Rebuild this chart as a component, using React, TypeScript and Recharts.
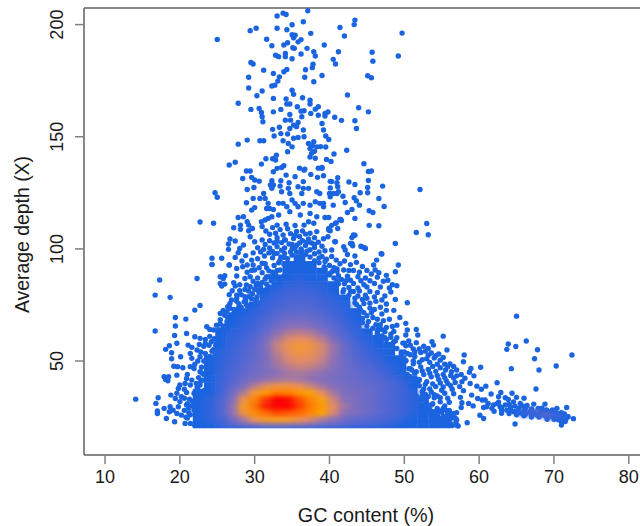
import { ScatterChart, Scatter, XAxis, YAxis, ReferenceLine } from 'recharts'

const xTicks = [10, 20, 30, 40, 50, 60, 70, 80]
const yTicks = [50, 100, 150, 200]

const _ = null
// density, one row per depth, 0 is plain blue and 10 is the red core
const gcCols = [21, 22.5, 24, 25.5, 27, 28.5, 30, 31.5, 33, 34.5, 36, 37.5, 39, 40.5, 42, 43.5, 45, 46.5, 48, 49.5, 51, 52.5, 54, 55.5]
const depthRows = [21.6, 24, 27, 30, 33, 36, 39, 42, 45, 48, 51, 54, 57, 60, 63, 66, 69, 72, 75, 78, 81, 84, 87, 90, 93, 96]
const density = [
  [_, 0, .3, .7, 1.5, 2, 2.5, 3, 3, 3, 2.8, 2.5, 2, 1.8, 1.5, 1.2, 1, .8, .5, .3, 0, 0, 0, 0],
  [_, 0, .5, 1, 2.5, 4, 5.8, 6.4, 6.6, 6.4, 5.8, 5.2, 4.2, 3.5, 2.5, 2, 1.8, 1.5, 1, .7, .3, 0, 0, 0],
  [_, 0, .5, 1.5, 3.5, 6, 7.5, 8.2, 8.8, 8.6, 8.2, 7.6, 7, 5.2, 3.5, 3, 2.5, 2, 1.5, 1, .5, 0, 0, _],
  [_, 0, .5, 1.5, 3.5, 6.5, 8, 9.5, 10, 10, 9, 7.8, 7.2, 5.5, 4, 3, 2.5, 2, 1.5, 1, .5, 0, _, _],
  [_, 0, .5, 1.5, 3, 5.8, 7.6, 9, 10, 9.8, 8.6, 7.6, 6.8, 5, 3.5, 3, 2.5, 2, 1.5, 1, .5, 0, _, _],
  [_, 0, .3, 1, 2.5, 4.2, 6.2, 7.2, 7.8, 7.7, 7.3, 6.8, 5.5, 4, 3, 2.7, 2.5, 2, 1.5, 1, .5, _, _, _],
  [_, _, .3, 1, 2, 3, 4.4, 5.4, 6, 6, 5.6, 4.8, 4, 3.3, 2.8, 2.6, 2.3, 2, 1.5, 1, .3, _, _, _],
  [_, _, .2, .8, 1.6, 2.4, 3, 3.6, 4, 4.2, 4, 3.6, 3.2, 3, 2.6, 2.4, 2, 1.8, 1.2, .7, 0, _, _, _],
  [_, _, 0, .7, 1.4, 2, 2.6, 3, 3.5, 4, 4.2, 4, 3.6, 3, 2.6, 2.2, 1.8, 1.4, .8, .3, _, _, _, _],
  [_, _, 0, .6, 1.2, 1.8, 2.4, 3, 3.9, 4.6, 5, 4.8, 4.2, 3.4, 2.5, 2, 1.5, 1, .5, 0, _, _, _, _],
  [_, _, 0, .5, 1, 1.6, 2.2, 3, 4.2, 5.2, 5.6, 5.4, 4.8, 3.6, 2.5, 1.8, 1.2, .7, .3, 0, _, _, _, _],
  [_, _, _, .4, .9, 1.5, 2.1, 3.1, 4.6, 5.6, 6, 5.8, 5.2, 3.8, 2.4, 1.5, 1, .5, 0, _, _, _, _, _],
  [_, _, _, .3, .8, 1.3, 2, 3.2, 4.8, 5.8, 6.2, 6, 5.2, 3.8, 2.4, 1.3, .7, .2, 0, _, _, _, _, _],
  [_, _, _, .2, .6, 1, 1.7, 2.8, 4.2, 5.2, 5.5, 5.2, 4.4, 3, 1.8, 1, .4, 0, _, _, _, _, _, _],
  [_, _, _, 0, .5, .8, 1.4, 2.2, 3.4, 4.2, 4.5, 4.2, 3.4, 2.3, 1.4, .7, .2, _, _, _, _, _, _, _],
  [_, _, _, _, .3, .6, 1, 1.8, 2.6, 3.2, 3.3, 3.1, 2.5, 1.8, 1.1, .5, _, _, _, _, _, _, _, _],
  [_, _, _, _, 0, .4, .8, 1.4, 2, 2.5, 2.6, 2.4, 2, 1.4, .8, .3, _, _, _, _, _, _, _, _],
  [_, _, _, _, _, .2, .6, 1, 1.6, 1.9, 2, 1.9, 1.5, 1, .6, 0, _, _, _, _, _, _, _, _],
  [_, _, _, _, _, _, .3, .8, 1.2, 1.5, 1.6, 1.5, 1.2, .8, .4, _, _, _, _, _, _, _, _, _],
  [_, _, _, _, _, _, _, .5, .9, 1.2, 1.3, 1.2, .9, .6, .2, _, _, _, _, _, _, _, _, _],
  [_, _, _, _, _, _, _, .2, .6, .9, 1, .9, .6, .3, _, _, _, _, _, _, _, _, _, _],
  [_, _, _, _, _, _, _, _, .3, .6, .7, .6, .4, .1, _, _, _, _, _, _, _, _, _, _],
  [_, _, _, _, _, _, _, _, 0, .3, .4, .3, .2, _, _, _, _, _, _, _, _, _, _, _],
  [_, _, _, _, _, _, _, _, _, .1, .2, .1, 0, _, _, _, _, _, _, _, _, _, _, _],
  [_, _, _, _, _, _, _, _, _, 0, 0, 0, _, _, _, _, _, _, _, _, _, _, _, _],
  [_, _, _, _, _, _, _, _, _, _, 0, _, _, _, _, _, _, _, _, _, _, _, _, _],
]
const tailDensity = [[66, 27, .5], [67.5, 27, 1], [69, 26, 1.6], [70.5, 25.5, .8]]

const topReads = [
  [25, 193.4], [29.4, 197.3], [30.2, 198.4], [31.6, 193.5], [33, 203.8], [33.8, 205.1], [34.2, 204.5], [33, 198.4], [34.3, 197.7], [35, 199.9], [36.5, 201.3], [37.1, 206.2], [37.5, 196.1], [35, 195.5], [35.4, 195.3], [35.2, 194.1], [35.8, 192.3], [36.2, 193.3], [32.3, 190.6], [33.9, 190.9], [34.4, 191.9], [35.1, 189.7], [35.3, 189.4], [37, 189.4], [37.9, 187.9], [38.1, 186], [36.2, 186.9], [32.8, 186.3], [33.2, 185.7], [34.1, 187.1], [34.1, 185.7], [35, 184.8], [29.5, 183.1], [29.8, 182.4], [37.8, 182.3], [37.7, 180.8], [31.2, 179.7], [36.8, 179.9], [34.3, 180], [33.9, 179], [32.5, 178.2], [29.2, 176.5], [33.3, 176.7], [33.1, 174.8], [36.7, 176.5], [37.9, 174.5], [32.3, 172.6], [32.7, 173], [29.2, 171.7], [31, 170.4], [30.3, 168.3], [35, 170.7], [35.2, 168.9], [36.4, 167.4], [32.5, 167.1], [34.2, 166.8], [34.3, 164.6], [34.7, 164.6], [27.8, 164.9], [37.4, 166.3], [37.4, 164.6], [29.5, 162.2], [30.6, 162.6], [30.9, 160.8], [32.5, 161.1], [33.5, 162.2], [35.7, 163.4], [36.2, 161.4], [36.6, 161.6], [38.1, 162.3], [38.5, 163.4], [37.5, 160.4], [38.5, 159.6], [31, 158.9], [31.1, 156.7], [34.1, 157.4], [34.7, 159.9], [34.8, 157.4], [36.3, 158.9], [35.8, 156.4], [35.2, 155.2], [35.6, 154.5], [34.7, 153.7], [32.4, 153.3], [33.3, 154.2], [32.6, 150.3], [33.5, 151.4], [34.4, 151.2], [30.7, 148.2], [31.2, 148.2], [29, 148.5], [27.8, 146.7], [35.2, 149.3], [35.8, 149.7], [36.6, 150], [36.5, 153], [33.8, 148.2], [34.5, 147], [35, 145.5], [34.4, 143.3], [37.2, 147], [37.4, 144.8], [37.9, 147.8], [38.3, 145.5], [37.6, 142.6], [38.1, 140.4], [37.4, 141], [37.7, 146], [38, 143.5], [32.9, 141.8], [32.4, 140.2], [32.8, 139.6], [31.5, 140.2], [30.9, 137.8], [27.4, 138.6], [26.6, 137.4], [33.9, 137.1], [36, 136], [36.7, 135.5], [38.5, 136],
  [43.4, 202], [43.3, 200], [41.4, 198.7], [42, 194.9], [49.7, 196.2], [39.3, 190.9], [41.2, 187.9], [45.7, 187.7], [40.5, 184.5], [40.8, 182.4], [45.8, 183.7], [49.2, 186], [39, 177.3], [45.1, 177.2], [45.6, 176.3], [42.4, 168.6], [43.9, 162.9], [45.2, 161.1], [39.4, 160.4], [39.8, 161], [39.4, 159.2], [40.7, 158.7], [41.6, 157.3], [43.4, 157.1], [43.6, 153.7], [39, 155.9], [39.2, 153], [39.5, 150.3], [39.9, 148.8], [39.5, 145.4], [38.8, 145.6], [40.6, 142.3], [42.3, 144], [39.6, 139.9], [40.2, 139], [44.6, 138], [45.2, 134.5], [45.6, 134.7], [39, 135.9],
]
const upperReads = [
  [39.2, 132.6], [41.1, 131.7], [40.1, 130.1], [41, 129.5], [42.6, 129.8], [43.4, 128.7], [45.2, 130.5], [47.1, 128], [52.1, 126.5], [41.1, 127.7], [40.1, 127.2], [41.2, 125.5], [45.1, 127.4], [45.1, 125], [44.1, 125], [40.5, 124.7], [40.1, 123.2], [41.8, 123.5], [43.3, 122.8], [43.6, 121.4], [46.6, 122.5], [47.3, 118.9], [42.1, 120.7], [40.5, 119.5], [39.2, 120.3], [44, 119.5], [43, 117.6], [42.4, 116.2], [45.3, 117], [45.8, 116.2], [53, 111.3], [51.6, 107.3], [53.2, 106.3], [43.4, 113.6], [41.5, 113.1], [39.4, 114], [40.9, 111.6], [45.3, 110.5], [46.6, 110.3], [40.3, 110.5], [41.1, 109.1], [39.9, 109.1], [40.1, 108.1], [43.4, 106.1], [43, 105.1], [48.8, 102.4], [39.2, 104.5], [39.8, 105.4], [40.7, 103.2], [42.8, 102.4], [43.1, 101.4], [44.2, 101.2], [44.7, 100.5], [41.9, 101], [42.1, 99.5], [40.3, 99.5], [46.9, 97.8], [43.4, 96.8], [42.4, 97.5],
  [24.7, 125], [25, 123], [22.7, 112], [24.5, 111.4], [28.9, 134.7], [29.4, 134.7], [28.4, 131.4], [29.6, 131.9], [30, 130.7], [30.6, 130.2], [29, 126.5], [29.9, 127.4], [32.3, 130.4], [32.1, 128.5], [32.5, 128.5], [32.3, 127], [33.5, 130.4], [33.4, 128], [33.6, 125.5], [34.6, 129.5], [34.5, 127], [34.7, 124.7], [32.5, 134.4], [33, 135.9], [33.6, 136.3], [34.2, 132.9], [35.4, 132.2], [36.6, 135.1], [37.5, 133.2], [38.4, 131.9], [39, 136.3], [28.9, 120.6], [29.8, 122.5], [30.7, 122.5], [31.2, 124.7], [31.4, 122.5], [31.8, 120.3], [32, 118], [36.5, 130], [35.8, 127.7], [36.5, 127], [37.2, 127], [36.3, 124.7], [38.3, 125.5], [38.7, 124.7], [40, 124.7], [41, 124.7], [40.3, 130], [35, 121.8], [35.4, 120.3], [35.8, 118.8], [33.8, 120.3], [33.2, 120.3], [36.5, 120.3], [37.4, 119.5], [38.1, 121], [38.7, 120.3], [39.2, 118.8], [29.6, 117.3], [30, 118.4], [32.5, 117.6], [31.6, 118], [34.3, 118.8], [34.7, 116.6], [33.2, 115.1], [31.4, 112.9], [30.9, 112.1], [32.3, 114.3], [31.8, 113.6], [27.8, 114], [28.5, 114.3], [29, 112.1], [29.2, 110.6], [29.7, 109.1], [29.2, 108.1], [28.1, 110.6], [28.1, 108.7], [27.2, 109.4], [29.4, 105.4], [37.4, 115.8], [36.1, 115.1], [37.2, 112.1], [38.3, 114.3], [39.9, 114], [37.9, 111.4], [38.3, 107.7], [39.9, 108.4], [40.8, 111.4], [41.6, 112.6], [41.4, 113.1], [43.2, 106.2], [40.8, 103.2], [43, 102.4], [44.3, 101], [44.8, 100.2], [47, 97.7], [49.2, 92.8], [48.8, 89.8], [46.3, 95], [45.9, 92.8], [46.1, 90.6], [26.7, 104.4], [27.4, 103.5], [26.5, 102.2], [26.5, 99.8], [28.5, 101.7], [28, 100.2], [27.8, 98.3], [27.4, 96.2], [25.6, 95.8], [24.3, 95.8], [24.3, 93.1], [26.6, 92.8], [27.6, 91.3], [28.3, 94.6], [29, 92.8], [29.6, 95], [29.8, 92.8],
]
const coreReads = [
  [31.5, 108], [32, 106.5], [32.4, 109.5], [32.8, 107], [33, 105], [33.4, 108.6], [33.8, 106.2], [34.1, 104], [34.4, 109], [34.8, 106.8], [35.2, 104.6], [35.6, 107.8], [36, 105.5], [36.4, 103.6], [36.8, 106.6], [37.2, 104.4], [37.6, 102.6], [38, 105], [38.5, 103], [39, 101.2], [31, 104], [31.4, 102], [32, 100.4], [32.6, 102.6], [33, 101], [33.6, 102.8], [34, 100.4], [34.6, 102.2], [35, 100], [35.6, 101.6], [36.2, 100], [36.8, 101.5], [37.4, 99.6], [38, 100.6], [38.6, 98.6], [39.4, 99.2], [30, 103.2], [30.4, 100.5], [30.8, 98.6], [31.3, 96.8], [31.9, 98.2], [32.4, 96], [33, 98], [33.5, 96.4], [34, 98], [39, 96.6], [39.6, 95.4], [40.3, 96.6], [40.9, 95], [41.4, 93.4], [42, 94.6], [42.8, 93], [43.6, 94], [44.4, 92.2], [45, 90.4], [43.2, 90.4], [41.9, 90.6], [40.6, 91.6], [40.1, 89.2], [41.2, 88], [42.4, 87.8], [43.8, 87.6], [44.8, 87], [46.4, 87.4], [47.2, 85.6], [46, 84.6], [44.6, 84], [43.2, 84.6], [42, 84.4], [41, 85.8], [47.6, 88.2], [49, 83.6], [45.4, 81], [44, 81.2], [42.8, 81], [46.4, 80.6], [41.8, 80.8], [47.4, 79], [48.2, 80.8], [45, 78], [43.4, 78], [46.2, 76.6], [44.6, 75.6], [47.6, 75.4], [48.8, 77.4], [50.4, 76], [46, 73], [47, 71], [48.6, 72.6], [45, 70.2], [46.4, 68.6], [48, 68.6], [49.4, 69.4], [44.4, 67.2], [47.6, 65], [49, 66], [50.2, 66.8], [46.4, 63.6],
  [29.8, 98.2], [30.4, 95.6], [31, 93.6], [31.6, 91.6], [32.6, 92.6], [33.2, 93.8], [30, 90.6], [31, 89.4], [32, 87.6], [29, 89.6], [28.7, 86.8], [29.4, 87.6], [30.4, 87], [28.9, 83.9], [28.7, 81.9], [29.4, 83.1], [30.2, 83.8], [31, 85], [30.6, 80.6], [29.7, 80], [28.2, 79.6], [29.2, 78.7], [28.7, 78.7], [30.2, 77.2],
  [34, 104], [35, 102], [36, 102.6], [37, 103], [38, 102], [33, 103.4], [32, 103.6], [35.4, 106], [36.4, 108], [37.4, 107], [34.2, 111], [35.4, 110.4], [33, 110.6], [36.6, 110.6], [31, 110],
  [41, 91], [42.6, 90.4], [44, 89.6], [45.6, 88.8], [46.6, 89.4], [47.8, 86], [48.4, 84], [44.2, 85.8], [42.8, 86], [45.4, 85.8], [46.8, 83], [48, 82.6], [43.8, 82.6], [45, 83], [44.8, 79.4], [46, 78.6], [47, 77.2], [43.6, 75.2], [45.4, 75.8], [46.8, 74], [47.6, 72.6], [45.6, 71.6], [44.4, 69], [45.8, 69.4], [47.2, 68], [46.8, 66.2], [48.4, 65.4], [48.6, 63.2],
  [28.4, 92], [29.6, 90.4], [30.6, 91.6], [31.4, 93.4], [28.8, 97], [31.2, 99.8], [32.4, 98.8], [33.6, 99.4], [30.4, 84.6], [31.6, 87.6], [29.8, 85.6], [28, 84], [28, 81.4], [30.4, 81.6], [31.6, 82], [26.6, 79.6], [27.6, 76.6], [28.8, 77], [26.4, 74.2], [25.8, 72.6],
]
const leftReads = [
  [17.3, 86.1], [16.7, 79.4], [18.7, 78.4], [22.3, 86.8], [24.3, 93], [26.6, 92.8], [25.4, 87.6], [26, 88], [25.8, 86.8], [25.4, 84.6], [26, 84.3], [25.6, 83.4], [27.6, 87.9], [27.2, 84.9], [27.4, 83.4], [27, 81.3], [26.7, 75.7], [26.9, 77.2], [27.6, 77.9], [22.7, 74.8], [22, 72.7], [25.4, 71.2], [26.3, 72], [26.7, 73.5], [27.2, 71.2], [27.8, 73.5], [28, 69.7], [26.7, 69], [19.4, 69.4], [20.8, 68.7], [19.4, 65.6], [16.7, 63.4], [19.3, 61.4], [20.9, 62.3], [23.6, 65.3], [24, 64.1], [24.9, 66], [25.4, 66.5], [24.5, 63.8], [19.6, 57.9], [18.6, 56.8], [18.1, 55.2], [18.9, 53.7], [18.9, 51], [20.1, 51.9], [22, 60.8], [22.7, 60.1], [23.4, 59.6], [21.1, 57.1], [21.6, 56.1], [22.3, 54.9], [21.4, 53.4], [21.6, 51.2], [22.7, 51.9], [23.8, 49], [21.4, 47.5], [21.9, 46.7], [22.7, 45.2], [19.2, 47.7], [19.7, 47.5], [19.6, 43.7], [17.9, 43], [18.5, 43], [18.1, 41.8], [18.4, 41.2], [20.9, 42.2], [21.6, 41.5], [20.7, 40], [21.4, 39.3], [20, 39.3], [19.8, 37.8], [22.7, 39.3], [14.1, 33], [17.1, 33.6], [16.8, 31.1], [18.8, 34.8], [19.6, 35.6], [19.4, 33.3], [20.2, 34.1], [20, 31.9], [17, 27.7], [17, 26.6], [17.9, 28.9], [18.7, 29.6], [19.1, 28.1], [18.6, 27.4], [18.2, 24.4], [19.3, 22.9], [19.6, 26.6], [20.2, 25.9], [20.7, 22.2], [19.8, 29.6], [20.9, 30.4], [21.4, 22.2], [22, 21.4],
  [20.6, 28], [21.2, 27], [21.6, 30], [22, 32.4], [21.3, 33], [20.9, 36], [21.9, 35.6], [22.4, 37.6], [23, 41.4], [23.6, 43.6], [22.9, 47.2], [24, 46.6], [24.6, 49.8], [23.4, 53.4], [24.3, 54.4], [23.2, 56.6], [24.8, 57], [25, 60], [24, 61], [26, 65.6], [26.4, 67], [27.4, 68], [28.5, 72], [29, 74.6], [30.2, 76.4], [29.7, 71], [31, 79], [32, 83], [20.4, 47], [22.5, 42.6], [23.7, 39], [22.9, 35], [23.6, 33], [22.8, 29], [24.4, 26],
  [20.6, 37.4], [21, 44], [22, 48.6], [22.4, 50], [22.8, 54], [23.4, 57.8], [24.2, 58.6], [22.6, 57.4],
]
const leftEdgeReads = [
  [21, 24.6], [21.4, 26], [20.8, 25], [21.2, 29], [21.9, 28], [21.7, 32], [22.2, 34.4], [22.3, 38.2], [22.8, 41], [23.2, 44], [23.6, 47.5], [24, 52], [24.5, 55], [24.9, 58], [25.3, 61.5], [25.8, 65], [26.3, 67.6], [26.8, 70.5], [27.5, 71.8], [28.2, 74], [28.9, 75.2], [29.6, 77.8], [30.3, 78.6], [31, 81.4], [31.6, 84.2], [32.2, 85.8], [32.8, 88.4], [33.4, 90.6], [33.9, 93.2], [34.4, 95.6], [35, 97.2], [35.6, 98.6], [36.3, 99.2],
  [22.6, 32], [23.3, 37], [22.2, 40], [23.9, 41.6], [23, 44.6], [24.2, 44.6], [24.6, 47], [23.2, 50], [24.7, 52.6], [23.9, 57], [25, 54.6], [25.4, 57.6], [25.6, 60], [24.6, 60], [25.8, 62], [26.4, 64], [25.2, 64], [27.2, 66], [27, 68.4], [27.8, 70], [28.4, 70.6], [29.4, 72.6], [29.9, 74.2], [30.8, 76], [31.2, 77], [31.9, 79.4], [32.6, 81], [33, 83.4], [33.4, 85.6], [34, 88.4], [34.6, 90.6], [35.2, 92.6], [35.6, 95.4],
  [26.4, 69.4], [25.4, 68.4], [26, 70.4], [27.2, 73], [27.9, 75.4], [28.6, 76.4], [27.6, 79.4], [29.2, 81.2], [30, 82], [30.8, 83], [31.4, 86.6], [32.4, 89.6], [33, 90.4], [31.9, 90.2], [33.4, 95], [32.6, 97.8], [34, 96.2], [34.8, 98.6], [35.4, 100.6], [36.2, 97.8], [21, 31], [22.4, 30], [23, 31], [20.6, 33.4],
]
const rightEdgeReads = [
  [36.8, 97.5], [37.4, 96.4], [38, 94.6], [38.6, 93.8], [39.3, 92], [40, 88.4], [40.6, 87], [41.2, 84.4], [41.9, 81.8], [42.6, 79.4], [43.4, 76], [44, 74], [44.6, 71.6], [45.2, 67.6], [45.8, 64.6], [46.4, 62.6], [47, 61.2], [47.6, 59.6], [48.4, 57.6], [49, 55.6], [49.6, 53.2], [50.2, 50.2], [50.8, 46.6], [51.4, 44.6], [52, 41.4], [52.6, 37.6], [53.2, 34.2], [53.8, 31], [54.4, 28.8], [55, 27.2], [55.8, 26.4], [56.4, 25.6], [57, 23.8], [57.2, 21],
  [37, 99], [38, 97.8], [38.6, 96], [39.4, 94.4], [40, 92.6], [40.4, 90], [41, 90], [41.6, 86.4], [42.2, 85.8], [42.6, 82.8], [43.2, 81], [43.8, 79], [44.4, 77.4], [44.2, 72.6], [45.4, 73.6], [45, 65.6], [46.2, 66.2], [46.6, 65], [47.4, 63], [48.2, 60.6], [48.8, 59], [50, 58], [50, 54], [50.8, 52.8], [51.2, 50], [49.4, 48.4], [50.4, 44], [51.4, 41], [52, 39], [52.4, 34.8], [53.4, 37.6], [54.4, 34.4], [53, 31], [54.2, 26.6], [55.2, 28.8], [56, 28], [56.6, 26.6], [56.8, 24.6], [55.6, 21.6], [56.4, 21.2], [54.6, 21.4],
]
const rightReads = [
  [55.2, 61.1], [53.7, 58.6], [53.9, 57.1], [53.2, 55.6], [51.6, 64.1], [51.8, 61.6], [50.4, 63.8], [50.2, 61.6], [55.7, 54.9], [54.6, 53.1], [55.2, 51.6], [58, 52.7], [57.9, 49.7], [56.1, 48.7], [55.5, 46], [57, 46], [56.3, 45.2], [58.9, 46.7], [58.7, 45], [60.2, 47.2], [59.3, 43.4], [58.1, 42.3], [57.7, 40.8], [58.8, 40], [59.7, 38.8], [60.9, 38.8], [60.3, 37.4], [62.4, 40.3], [57.9, 36.8], [59, 34.8], [59.8, 33.3], [57.5, 33.8], [57.7, 31.4], [58.6, 31.1], [59.2, 30], [57.6, 29.3], [61.6, 35.3], [62.9, 36], [64.4, 35.6], [62.6, 34.1], [63.5, 33.6], [63.9, 32.9], [65, 33.8], [66, 33.4], [60.8, 32.6], [60.4, 32.6], [61.2, 31.1], [60.6, 29.3], [61.7, 28.9], [61.9, 30.4], [62.8, 29.6],
  [50.6, 59], [51.6, 58.2], [52.6, 56.6], [50.2, 56.8], [51.2, 55.4], [52.2, 53.8], [53.2, 52.6], [54, 51.4], [50.4, 53.4], [51.4, 52], [52.4, 50.6], [53.4, 49.4], [54.4, 48.6], [50.2, 50], [51.2, 48.8], [52.2, 47.4], [53.2, 46.2], [54.2, 45.4], [55.2, 44], [50.6, 46.6], [51.6, 45.2], [52.6, 44], [53.6, 43], [54.6, 41.8], [55.6, 41.2], [56.6, 42.4], [50.8, 43], [52, 41.8], [53, 40.8], [54.2, 38.6], [55.2, 38.4], [56.2, 39], [51.2, 38.4], [52.4, 36.4], [53.6, 36.2], [51.6, 34.4], [52.8, 33], [54, 33.6], [55.4, 35.6], [54.8, 31.8], [53.6, 30.4], [52.6, 29.4], [55.4, 30], [56, 27.4], [54.6, 28], [53.6, 26.6], [55.2, 25.4], [56.2, 24.4], [56.9, 22.8], [57, 21.4], [56.2, 22], [55, 23], [52.6, 26.4], [51.8, 30], [49.6, 54], [48.6, 58.6], [47.4, 60.4], [46.4, 62], [49, 60.4], [49.8, 58], [48.2, 62], [47, 64],
  [50.8, 57], [51.4, 54], [52, 55.4], [52.8, 54.4], [53.6, 53.6], [54.2, 52.4], [53, 51], [54.8, 50.4], [55.4, 48.6], [53.8, 47.6], [54.8, 47], [55.8, 47.4], [56.6, 47.6], [52, 49.4], [51, 46], [52.4, 45.6], [53.4, 44.6], [54.4, 43.6], [55.4, 42.6], [56.2, 43.6], [57, 43.4], [57.6, 44], [56.8, 40.4], [55.8, 40], [54.8, 40.2], [53.8, 39.8], [52.8, 39.6], [51.8, 40], [57.4, 38.6], [56.4, 37.4], [55, 37], [54, 35], [52.8, 35.2], [56.6, 35.4], [55.8, 33.4], [54.8, 33.6], [56, 31.6], [55.6, 28], [57, 27], [53.4, 28.4], [52.2, 28], [52, 32.6],
]
const tailReads = [
  [63.5, 30.4], [64.2, 29.6], [64.8, 29.9], [65.5, 31.1], [65.3, 28.9], [66.2, 28.9], [63.7, 28.1], [64.6, 27.4], [63, 26.7], [66.8, 27.4], [67.3, 30.8], [68.8, 30.8], [67.9, 28.9], [70.4, 28.9], [71.7, 29.3], [67.7, 25.9], [68.6, 25.9], [69.5, 26.7], [70.2, 25.2], [70.8, 25.9], [69.1, 24], [71.3, 24.4], [71.9, 25.2], [72.6, 24.3], [71, 21.5], [71.5, 23], [64.8, 21.9], [58.4, 22.5], [60.1, 25.8], [60.6, 24.4], [67.6, 37.5], [70.3, 47.8], [68, 46], [64.3, 46.6], [67.4, 51], [67.8, 55], [72.4, 52.7], [66.3, 58.9], [64.9, 56.5], [63.9, 57.6], [63.7, 55.2], [65, 70],
  [62.4, 31], [63, 29.2], [64, 30.6], [64.6, 31.8], [65, 27.6], [65.8, 30], [66.4, 30.2], [66, 27.8], [67, 28.6], [67.4, 27.2], [68.2, 27.4], [68.4, 29], [69, 28.2], [69.4, 27.4], [70, 27], [70.4, 26.6], [71, 27], [71.4, 26.4], [71.2, 24.8], [70.6, 23.8], [71, 23], [71.6, 24], [69.6, 25.4], [68.2, 26.2], [67, 26.2], [66.2, 26.4], [65.6, 26.8], [64.2, 28.6], [63, 28],
  [61, 29.6], [62, 27.6], [62.6, 31.6], [64, 26.6], [65, 26], [66, 25.6], [67, 25], [68, 25], [69, 25], [70, 24], [70.6, 24.8], [69.8, 28.2], [68.8, 27.2],
]

const allReads = [...topReads, ...upperReads, ...coreReads, ...leftReads, ...leftEdgeReads, ...rightEdgeReads, ...rightReads, ...tailReads]

const toPoints = (list: number[][]) => list.map(([gc, depth]) => ({ gc, depth }))

const gridCells = depthRows.flatMap((depth, r) =>
  gcCols.flatMap((gc, c) => (density[r][c] === null ? [] : [{ gc, depth, level: density[r][c] as number }]))
)
const heatCells = [
  ...gridCells.filter((d) => d.level >= 0.4),
  ...tailDensity.map(([gc, depth, level]) => ({ gc, depth, level })),
]

const BLUE = '#1b64e0'
const colorStops: [number, number[]][] = [
  [0, [27, 100, 224]],
  [1, [65, 100, 216]],
  [2, [95, 105, 206]],
  [3.5, [140, 112, 184]],
  [5.5, [232, 140, 98]],
  [7, [255, 165, 0]],
  [8.5, [255, 90, 0]],
  [10, [255, 0, 0]],
]

function levelColor(level: number) {
  for (let i = 1; i < colorStops.length; i++) {
    const [l0, c0] = colorStops[i - 1]
    const [l1, c1] = colorStops[i]
    if (level <= l1) {
      const t = (level - l0) / (l1 - l0)
      const rgb = c0.map((v, k) => Math.round(v + (c1[k] - v) * t))
      return `rgb(${rgb.join(',')})`
    }
  }
  return 'rgb(255,0,0)'
}

// 1.5 % GC and 3 X per grid cell, at the plot's scale
const CELL_W = 11.6
const CELL_H = 7.1

const BaseCell = (props: any) => (
  <rect x={props.cx - CELL_W / 2} y={props.cy - CELL_H / 2} width={CELL_W} height={CELL_H} fill={BLUE} />
)
const HeatCell = (props: any) => (
  <rect
    x={props.cx - CELL_W / 2}
    y={props.cy - CELL_H / 2}
    width={CELL_W}
    height={CELL_H}
    fill={levelColor(props.payload.level)}
  />
)
const Dot = (props: any) => <circle cx={props.cx} cy={props.cy} r={2.7} fill={BLUE} />

const YTick = (props: any) => (
  <text
    x={props.x}
    y={props.y}
    transform={`rotate(-90 ${props.x} ${props.y})`}
    textAnchor="middle"
    fontSize={18}
    fill="#1a1a1a"
  >
    {props.payload.value}
  </text>
)

const FONT = '"Liberation Sans", Arial, sans-serif'

export default function App() {
  return (
    <div style={{ position: 'absolute', left: 0, top: 0, width: 640, height: 526, fontFamily: FONT }}>
      <style>{'.heat-layer{filter:url(#heatBlur);clip-path:url(#heatClip);}'}</style>
      <ScatterChart width={640} height={526} margin={{ top: 8, right: 0, bottom: 0, left: 0 }}>
        <defs>
          <filter id="heatBlur" filterUnits="userSpaceOnUse" x="0" y="0" width="640" height="526" colorInterpolationFilters="sRGB">
            <feGaussianBlur stdDeviation="3.5 2.2" />
          </filter>
          <clipPath id="heatClip">
            <rect x="0" y="0" width="640" height="428" />
          </clipPath>
        </defs>
        <XAxis
          type="number"
          dataKey="gc"
          domain={[7.19, 81.5]}
          ticks={xTicks}
          allowDataOverflow
          height={71}
          tickSize={9}
          tickMargin={6}
          interval={0}
          axisLine={{ stroke: '#606060', strokeWidth: 1.5 }}
          tickLine={{ stroke: '#808080', strokeWidth: 1.5 }}
          tick={{ fontSize: 18, fill: '#1a1a1a' }}
          label={{ value: 'GC content (%)', position: 'insideBottom', offset: 4, dx: 4, fontSize: 19.8, fill: '#1a1a1a' }}
        />
        <YAxis
          type="number"
          dataKey="depth"
          domain={[8.1, 207.4]}
          ticks={yTicks}
          allowDataOverflow
          width={84}
          tickSize={9}
          tickMargin={12}
          interval={0}
          axisLine={{ stroke: '#606060', strokeWidth: 1.5 }}
          tickLine={{ stroke: '#808080', strokeWidth: 1.5 }}
          tick={<YTick />}
          label={{ value: 'Average depth (X)', angle: -90, position: 'insideLeft', offset: 22, dy: 3, textAnchor: 'middle', fontSize: 19.4, fill: '#1a1a1a' }}
        />
        <ReferenceLine y={207.4} stroke="#606060" strokeWidth={1.5} />
        <Scatter data={gridCells} shape={BaseCell} isAnimationActive={false} />
        <Scatter data={toPoints(allReads)} shape={Dot} isAnimationActive={false} />
        <Scatter data={heatCells} shape={HeatCell} className="heat-layer" isAnimationActive={false} />
      </ScatterChart>
    </div>
  )
}
